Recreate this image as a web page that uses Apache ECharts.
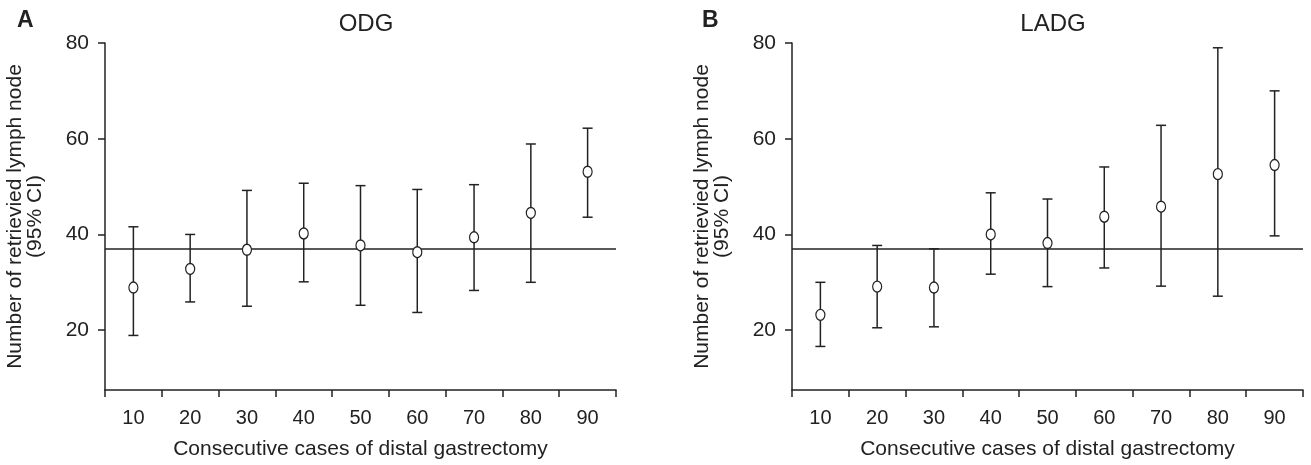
<!DOCTYPE html>
<html>
<head>
<meta charset="utf-8">
<title>ODG / LADG</title>
<script src="https://cdn.jsdelivr.net/npm/echarts@6/dist/echarts.min.js"></script>
<style>
    html, body { margin: 0; padding: 0; background: #fff; }
    #main { width: 1311px; height: 465px; }
</style>
</head>
<body>
<div id="main"></div>
<script>
// 数据
var categories = ['10', '20', '30', '40', '50', '60', '70', '80', '90'];

var odgMean = [28.9, 32.8, 36.8, 40.2, 37.7, 36.3, 39.4, 44.5, 53.1];
var odgLow = [18.9, 25.9, 25.0, 30.1, 25.2, 23.7, 28.3, 30.0, 43.6];
var odgHigh = [41.6, 40.0, 49.2, 50.7, 50.2, 49.4, 50.4, 58.9, 62.2];

var ladgMean = [23.2, 29.1, 28.9, 40.0, 38.2, 43.7, 45.8, 52.6, 54.5];
var ladgLow = [16.6, 20.5, 20.7, 31.7, 29.1, 33.0, 29.2, 27.1, 39.7];
var ladgHigh = [30.0, 37.7, 37.0, 48.7, 47.4, 54.1, 62.8, 79.0, 70.0];

var refValue = 37;
var yTicks = [20, 40, 60, 80];
var yMin = 7.5;
var yMax = 80;

(function() {
    var ink = '#222';
    var font = 'Liberation Sans, Arial, sans-serif';
    var myechart = echarts.init(document.getElementById('main'));

    // 误差线
    var errorItem = function(params, api) {
        var x = api.value(0);
        var lo = api.coord([x, api.value(1)]);
        var hi = api.coord([x, api.value(2)]);
        var w = 5;
        var style = { stroke: ink, lineWidth: 1.5 };
        return {
            type: 'group',
            children: [
                { type: 'line', shape: { x1: hi[0], y1: hi[1], x2: lo[0], y2: lo[1] }, style: style },
                { type: 'line', shape: { x1: hi[0] - w, y1: hi[1], x2: hi[0] + w, y2: hi[1] }, style: style },
                { type: 'line', shape: { x1: lo[0] - w, y1: lo[1], x2: lo[0] + w, y2: lo[1] }, style: style }
            ]
        };
    };

    var makeRange = function(low, high) {
        return categories.map(function(c, i) { return [i, low[i], high[i]]; });
    };

    var xAxisOf = function(idx) {
        return {
            type: 'category',
            gridIndex: idx,
            data: categories,
            boundaryGap: true,
            name: 'Consecutive cases of distal gastrectomy',
            nameLocation: 'middle',
            nameGap: 49,
            nameTextStyle: { color: ink, fontSize: 21, fontFamily: font },
            axisLine: { lineStyle: { color: ink, width: 1.5 } },
            axisTick: { show: true, length: 7, lineStyle: { color: ink, width: 1.5 } },
            axisLabel: { color: ink, fontSize: 20, fontFamily: font, margin: 18 },
            splitLine: { show: false }
        };
    };

    var yAxisOf = function(idx) {
        return {
            type: 'value',
            gridIndex: idx,
            min: yMin,
            max: yMax,
            name: 'Number of retrievied lymph node\n(95% CI)',
            nameLocation: 'middle',
            nameRotate: 90,
            nameGap: 60,
            nameTextStyle: { color: ink, fontSize: 21, fontFamily: font, lineHeight: 20 },
            axisLine: { show: true, lineStyle: { color: ink, width: 1.5 } },
            axisTick: { show: true, length: 7, customValues: yTicks, lineStyle: { color: ink, width: 1.5 } },
            axisLabel: { color: ink, fontSize: 21, fontFamily: font, margin: 16, customValues: yTicks },
            splitLine: { show: false }
        };
    };

    var refLine = {
        silent: true,
        symbol: 'none',
        label: { show: false },
        lineStyle: { color: ink, width: 1.5, type: 'solid' },
        data: [{ yAxis: refValue }]
    };

    var meanSeries = function(idx, mean) {
        return {
            type: 'scatter',
            xAxisIndex: idx,
            yAxisIndex: idx,
            data: mean,
            symbol: 'circle',
            symbolSize: [9, 11],
            itemStyle: { color: '#fff', borderColor: ink, borderWidth: 1.3, opacity: 1 },
            z: 5,
            markLine: refLine
        };
    };

    var option = {
        animation: false,
        backgroundColor: '#fff',
        textStyle: { fontFamily: font },
        title: [
            { text: 'A', left: 12, top: 4, textStyle: { fontSize: 23, fontWeight: 'bold', color: ink, fontFamily: font } },
            { text: 'ODG', left: 361, top: 7, textAlign: 'center', textStyle: { fontSize: 24, fontWeight: 'normal', color: ink, fontFamily: font } },
            { text: 'B', left: 697, top: 4, textStyle: { fontSize: 23, fontWeight: 'bold', color: ink, fontFamily: font } },
            { text: 'LADG', left: 1048, top: 7, textAlign: 'center', textStyle: { fontSize: 24, fontWeight: 'normal', color: ink, fontFamily: font } }
        ],
        grid: [
            { left: 105, right: 695, top: 43, bottom: 70 },
            { left: 792, right: 8, top: 43, bottom: 70 }
        ],
        xAxis: [xAxisOf(0), xAxisOf(1)],
        yAxis: [yAxisOf(0), yAxisOf(1)],
        series: [
            {
                type: 'custom',
                xAxisIndex: 0,
                yAxisIndex: 0,
                renderItem: errorItem,
                encode: { x: 0, y: [1, 2] },
                data: makeRange(odgLow, odgHigh),
                z: 3
            },
            meanSeries(0, odgMean),
            {
                type: 'custom',
                xAxisIndex: 1,
                yAxisIndex: 1,
                renderItem: errorItem,
                encode: { x: 0, y: [1, 2] },
                data: makeRange(ladgLow, ladgHigh),
                z: 3
            },
            meanSeries(1, ladgMean)
        ]
    };
    myechart.setOption(option);
})();
</script>
</body>
</html>
